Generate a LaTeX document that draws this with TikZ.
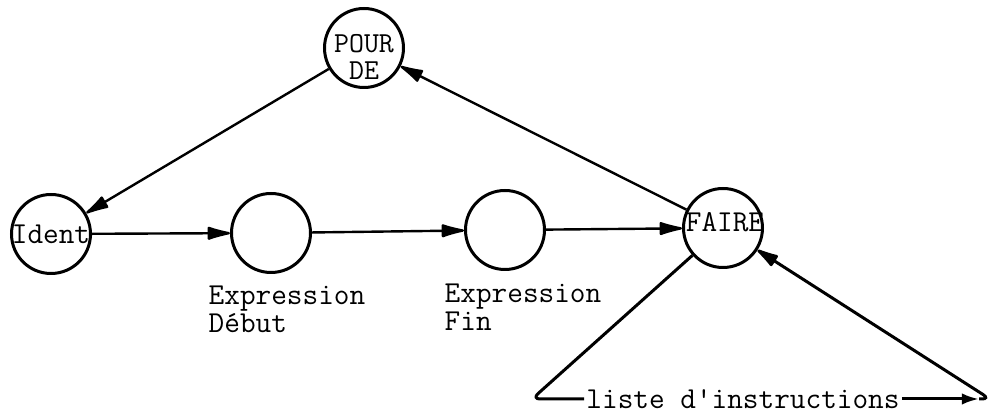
\documentclass[tikz,border=0pt]{standalone}
\usetikzlibrary{positioning, arrows.meta}

\begin{document}
\begin{tikzpicture}[
      x=0.5pt, y=-0.5pt, % one unit per pixel of the scan, y downwards
      >={Latex[length=5mm,width=2.5mm,round]},
      font=\ttfamily\fontsize{15.2}{14}\selectfont,
      state/.style={circle, draw, line width=1.5pt, minimum size=39.5pt, inner sep=0pt},
      link/.style={->, line width=1.2pt},
      loop/.style={line width=1.5pt, rounded corners=4pt},
      caption/.style={align=left, inner sep=0pt},
      word/.style={inner sep=0pt, font=\ttfamily\fontsize{14.5}{14}\selectfont},
    ]
    \useasboundingbox (0,0) rectangle (993,415);

    % ---- states -----------------------------------------------------------
    \node[state,
          label={[name=pourtxt, word, yshift=2pt]center:POUR},
          label={[name=detxt, word, yshift=-11.5pt]center:DE}] (pour) at (364,48) {};
    \node[state, label={[name=identtxt]center:Ident}] (ident) at (51,234) {};
    \node[state] (debut) at (271,233) {};
    \node[state] (fin)   at (505,230) {};
    \node[state, label={[name=fairetxt, yshift=3pt, xshift=1pt]center:FAIRE}] (faire) at (723,228) {};

    % ---- captions ---------------------------------------------------------
    \node[caption, below=6pt of debut, xshift=8pt] (debutcap) {Expression\\Début};
    \node[caption, below=6.5pt of fin, xshift=9pt] (fincap) {Expression\\Fin};
    \node[inner sep=1pt] (liste) at (743,399) {liste d'instructions};

    % ---- connectors -------------------------------------------------------
    \draw[link] (pour) -- (ident);
    \draw[link] (ident) -- (debut);
    \draw[link] (debut) -- (fin);
    \draw[link] (fin) -- (faire);
    \draw[link] (faire) -- (pour);

    % ---- loop round the body ----------------------------------------------
    \coordinate (lc)  at (532,399);
    \coordinate (rca) at (979,399);
    \coordinate (rc)  at (990,399);
    \draw[loop] (faire) -- (lc) -- (liste.west);
    \draw[loop, -{Latex[length=3mm,width=2mm]}] (liste.east) -- (rca);
    \draw[loop, ->] (rca) -- (rc) -- (faire);
  \end{tikzpicture}
\end{document}
